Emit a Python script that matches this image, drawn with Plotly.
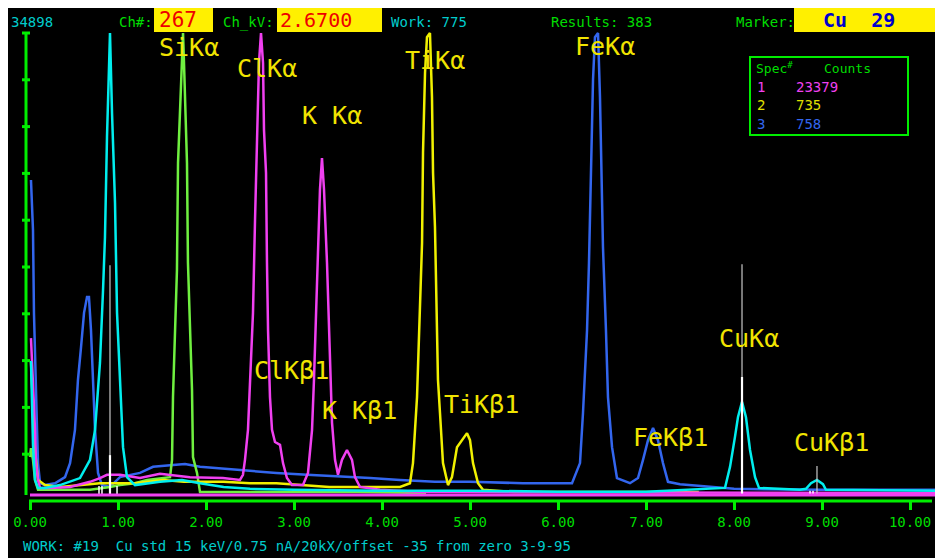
import plotly.graph_objects as go

# ---------------- data (energy in keV, counts in % of full scale 34898) ----------------
full_scale_counts = 34898

blue_keV = [0.011, 0.023, 0.034, 0.045, 0.057, 0.068, 0.080, 0.091, 0.114, 0.170, 0.284, 0.398,
            0.455, 0.511, 0.545, 0.580, 0.614, 0.648, 0.670, 0.693, 0.716, 0.739, 0.773, 0.818,
            0.909, 1.023, 1.250, 1.398, 1.625, 1.761, 1.932, 2.386, 2.800, 3.148, 3.500, 3.864,
            4.205, 4.600, 5.000, 5.602, 6.159, 6.250, 6.284, 6.330, 6.352, 6.375, 6.398, 6.420,
            6.455, 6.477, 6.500, 6.511, 6.545, 6.568, 6.614, 6.670, 6.818, 6.909, 6.966, 7.023,
            7.080, 7.136, 7.193, 7.250, 7.386, 8.000, 9.000, 10.341]
blue_pct = [68.6, 61.5, 57.9, 40.2, 29.5, 22.2, 15.2, 8.1, 3.8, 3.4, 3.8, 5.1,
            8.1, 15.2, 25.9, 32.9, 40.2, 43.6, 43.6, 36.5, 25.9, 15.2, 6.0, 3.4,
            3.0, 5.1, 6.0, 7.3, 7.7, 7.9, 7.3, 6.6, 6.0, 5.6, 5.3, 4.9,
            4.5, 4.1, 4.1, 3.8, 3.8, 8.1, 18.8, 36.5, 50.9, 72.2, 90.0, 99.1,
            100.0, 86.3, 68.6, 54.3, 36.5, 22.2, 11.5, 4.9, 3.8, 4.9, 8.8, 13.0,
            15.6, 13.0, 8.1, 4.1, 3.6, 2.6, 2.4, 2.4]

cyan_keV = [0.011, 0.034, 0.057, 0.091, 0.170, 0.341, 0.568, 0.682, 0.739, 0.795, 0.830, 0.852,
            0.875, 0.898, 0.909, 0.932, 0.966, 0.989, 1.023, 1.057, 1.102, 1.193, 1.477, 1.727,
            1.932, 2.200, 2.500, 3.000, 4.000, 5.000, 6.000, 7.000, 7.898, 7.955, 8.011, 8.045,
            8.091, 8.136, 8.182, 8.239, 8.284, 8.750, 8.818, 8.875, 8.943, 9.011, 9.045, 10.341]
cyan_pct = [29.9, 12.0, 4.5, 2.8, 2.8, 3.4, 4.9, 8.8, 15.2, 29.5, 45.1, 56.4,
            77.8, 94.9, 100.0, 82.9, 63.7, 40.2, 25.9, 11.5, 5.1, 3.4, 4.1, 4.5,
            3.8, 3.0, 2.6, 2.4, 2.2, 2.2, 2.0, 2.0, 2.8, 7.3, 13.7, 17.9,
            21.2, 17.9, 10.9, 5.1, 2.8, 2.4, 2.6, 3.8, 4.5, 3.6, 2.4, 2.2]

magenta_keV = [0.011, 0.023, 0.045, 0.057, 0.068, 0.091, 0.114, 0.227, 0.455, 0.682, 0.795, 0.875,
               1.023, 1.250, 1.477, 1.591, 1.818, 2.193, 2.386, 2.420, 2.443, 2.477, 2.500, 2.534,
               2.557, 2.580, 2.602, 2.625, 2.648, 2.659, 2.682, 2.693, 2.705, 2.727, 2.750, 2.784,
               2.841, 2.875, 2.920, 2.977, 3.102, 3.159, 3.205, 3.227, 3.250, 3.273, 3.295, 3.318,
               3.341, 3.375, 3.398, 3.420, 3.432, 3.466, 3.500, 3.545, 3.602, 3.659, 3.693, 3.750,
               3.977, 4.400, 5.000, 10.341]
magenta_pct = [34.8, 29.5, 22.2, 15.2, 8.1, 4.5, 2.8, 2.8, 3.0, 4.1, 4.9, 5.6,
               5.6, 4.9, 5.8, 5.6, 5.1, 4.9, 4.5, 5.6, 8.8, 15.2, 25.9, 40.2,
               60.0, 80.8, 93.6, 100.0, 93.6, 79.3, 70.1, 50.9, 36.5, 22.2, 15.2, 12.6,
               12.0, 8.1, 4.9, 3.4, 3.4, 6.0, 15.2, 25.9, 40.2, 54.3, 66.5, 73.3,
               66.5, 50.9, 36.5, 25.9, 16.7, 8.8, 5.6, 8.8, 10.9, 8.8, 5.1, 3.0,
               2.4, 2.0, 1.9, 1.7]

green_keV = [0.000, 0.011, 0.034, 0.057, 0.091, 0.682, 0.909, 1.023, 1.193, 1.330, 1.591, 1.614,
             1.625, 1.648, 1.670, 1.682, 1.705, 1.727, 1.739, 1.750, 1.773, 1.784, 1.795, 1.818,
             1.841, 1.852, 1.898, 1.932, 3.716, 4.500]
green_pct = [9.4, 11.3, 8.8, 4.5, 2.4, 2.4, 3.0, 3.4, 3.8, 4.5, 5.1, 8.8,
             22.2, 38.7, 49.4, 72.2, 84.2, 93.6, 100.0, 93.6, 81.4, 72.2, 50.9, 39.3,
             23.7, 9.4, 6.0, 1.9, 1.9, 1.7]

yellow_keV = [0.011, 0.034, 0.057, 0.091, 0.170, 0.341, 0.795, 1.193, 1.330, 1.511, 1.750, 2.200,
              2.500, 2.800, 3.400, 4.205, 4.318, 4.352, 4.398, 4.432, 4.455, 4.466, 4.489, 4.511,
              4.545, 4.568, 4.580, 4.602, 4.625, 4.636, 4.659, 4.693, 4.750, 4.795, 4.852, 4.909,
              4.966, 5.000, 5.034, 5.091, 5.148, 5.500, 7.600]
yellow_pct = [29.7, 21.6, 10.9, 4.5, 3.4, 3.0, 3.8, 3.8, 4.1, 4.5, 4.1, 4.1,
              3.8, 3.8, 3.0, 3.0, 3.8, 8.1, 22.2, 43.6, 55.1, 74.4, 91.5, 99.1,
              100.0, 86.3, 70.1, 58.5, 40.2, 25.9, 18.8, 8.1, 3.4, 5.1, 11.5, 13.0,
              14.5, 13.0, 8.1, 3.8, 2.4, 1.9, 1.9]

baseline_keV = [0.0, 10.341]
baseline_pct = [1.3, 1.3]

# Cu KLM marker lines (Marker: Cu 29)
cu_marker_keV = [0.909, 8.091, 8.943]
cu_marker_pct = [50.4, 50.6, 7.5]
cu_marker_bright_pct = [9.8, 26.5, 0.0]
cu_minor_keV = [0.784, 0.818, 0.989, 8.864, 8.898]
cu_minor_pct = [3.2, 3.2, 3.2, 2.2, 2.2]
marker_base_pct = 1.3

peak_labels = ["SiKα", "ClKα", "K Kα", "TiKα", "FeKα", "CuKα",
               "ClKβ1", "K Kβ1", "TiKβ1", "FeKβ1", "CuKβ1"]
peak_label_keV = [1.443, 2.330, 3.068, 4.239, 6.170, 7.807,
                  2.523, 3.295, 4.682, 6.830, 8.659]
peak_label_pct = [96.8, 92.5, 82.3, 94.2, 97.2, 34.8,
                  27.8, 19.4, 20.7, 13.5, 12.6]

x_ticks = [0, 1, 2, 3, 4, 5, 6, 7, 8, 9, 10]
x_tick_text = ["0.00", "1.00", "2.00", "3.00", "4.00", "5.00",
               "6.00", "7.00", "8.00", "9.00", "10.00"]
y_ticks = [10, 20, 30, 40, 50, 60, 70, 80, 90, 100]

legend_spec = ["1", "2", "3"]
legend_counts = ["23379", "735", "758"]

# ---------------- styling ----------------
# the page places the figure 8 px from the window's top-left corner
OFF = 8
WIN_W, WIN_H = 943, 558
W, H = WIN_W - OFF, WIN_H - OFF
MONO = "DejaVu Sans Mono"
AXIS_GREEN = "#00ee00"
TXT_GREEN = "#00dd00"
TXT_CYAN = "#00cccc"
C_BLUE = "#3366ee"
C_CYAN = "#00eeee"
C_MAG = "#f040f0"
C_GREEN = "#70f040"
C_YEL = "#f0f000"
LBL_YEL = "#f0e400"
BOX_YEL = "#fff000"

# window pixel -> keV / percent  (0 keV at x=30, 88 px per keV; 0 % at y=501, 4.68 px per %)
X_RANGE = [(OFF - 30) / 88, (WIN_W - 30) / 88]
Y_RANGE = [(501 - WIN_H) / 4.68, (501 - OFF) / 4.68]


def pxx(x):
    return (x - OFF) / W


def pxy(y):
    return (WIN_H - y) / H


fig = go.Figure()


def spec(xs, ys, color, name, width=2.5):
    fig.add_trace(go.Scatter(x=xs, y=ys, mode="lines", name=name,
                             line=dict(color=color, width=width), hoverinfo="skip"))


spec(blue_keV, blue_pct, C_BLUE, "Spec 3")
spec(green_keV, green_pct, C_GREEN, "Si")
spec(yellow_keV, yellow_pct, C_YEL, "Spec 2")
spec(magenta_keV, magenta_pct, C_MAG, "Spec 1")
spec(cyan_keV, cyan_pct, C_CYAN, "Cu std")


def stems(xs, hs):
    X, Y = [], []
    for x, h in zip(xs, hs):
        if h <= 0:
            continue
        X += [x, x, None]
        Y += [marker_base_pct, h, None]
    return X, Y


mx, my = stems(cu_marker_keV, cu_marker_pct)
fig.add_trace(go.Scatter(x=mx, y=my, mode="lines", line=dict(color="#c8c8c8", width=1.2),
                         hoverinfo="skip", name="Cu markers"))
bx, by = stems(cu_marker_keV, cu_marker_bright_pct)
fig.add_trace(go.Scatter(x=bx, y=by, mode="lines", line=dict(color="#ffffff", width=2.2),
                         hoverinfo="skip", name="Cu markers"))
nx, ny = stems(cu_minor_keV, cu_minor_pct)
fig.add_trace(go.Scatter(x=nx, y=ny, mode="lines", line=dict(color="#ffffff", width=1.5),
                         hoverinfo="skip", name="Cu minor"))
spec(baseline_keV, baseline_pct, C_MAG, "baseline", width=3)

shapes = []
# x axis line
shapes.append(dict(type="line", xref="x", yref="y", x0=-0.011, x1=10.25, y0=0, y1=0,
                   line=dict(color=AXIS_GREEN, width=3)))
# y axis line and ticks
shapes.append(dict(type="line", xref="x", yref="y", x0=-0.0455, x1=-0.0455, y0=1.3, y1=100,
                   line=dict(color=AXIS_GREEN, width=3)))
for v in y_ticks:
    shapes.append(dict(type="line", xref="x", yref="y", x0=-0.091, x1=0.0, y0=v, y1=v,
                       line=dict(color=AXIS_GREEN, width=3)))
# yellow boxes in header
for x0, x1 in [(154, 213), (277, 382), (794, 943)]:
    shapes.append(dict(type="rect", xref="paper", yref="paper", x0=pxx(x0), x1=pxx(x1),
                       y0=pxy(32), y1=pxy(7), fillcolor=BOX_YEL, line=dict(width=0)))
# legend box
shapes.append(dict(type="rect", xref="paper", yref="paper", x0=pxx(750), x1=pxx(908),
                   y0=pxy(135), y1=pxy(57), line=dict(color=AXIS_GREEN, width=2)))

ann = []


def txt(text, x, y, color, size=14, bold=False, family=MONO):
    ann.append(dict(text=("<b>%s</b>" % text) if bold else text, x=pxx(x), y=pxy(y),
                    xref="paper", yref="paper", xanchor="left", yanchor="middle",
                    showarrow=False, font=dict(family=family, size=size, color=color)))


txt(str(full_scale_counts), 9, 22, TXT_CYAN)
txt("Ch#:", 117, 22, TXT_GREEN)
txt("267", 157, 20, "#ee0000", size=21)
txt("Ch_kV:", 221, 22, TXT_GREEN)
txt("2.6700", 278, 20, "#ee0000", size=20)
txt("Work: 775", 389, 22, TXT_CYAN)
txt("Results: 383", 549, 22, TXT_GREEN)
txt("Marker:", 734, 22, TXT_GREEN)
txt("Cu  29", 821, 20, "#0000cc", size=20, bold=True)

txt("Spec<sup>#</sup>", 754, 68, TXT_GREEN, size=13)
txt("Counts", 822, 68, TXT_GREEN, size=13)
row_colors = [C_MAG, "#e0e000", C_BLUE]
for i, (s, c) in enumerate(zip(legend_spec, legend_counts)):
    yy = 87 + i * 18.5
    txt(s, 755, yy, row_colors[i], size=14)
    txt(c, 794, yy, row_colors[i], size=14)

txt("WORK: #19  Cu std 15 keV/0.75 nA/20kX/offset -35 from zero 3-9-95", 21, 546, TXT_CYAN)

for t, xk, yv in zip(peak_labels, peak_label_keV, peak_label_pct):
    ann.append(dict(text=t, x=xk, y=yv, xref="x", yref="y", xanchor="left", yanchor="middle",
                    showarrow=False, font=dict(family=MONO, size=25, color=LBL_YEL)))

fig.update_layout(
    width=W, height=H,
    margin=dict(l=0, r=0, t=0, b=0, pad=0),
    paper_bgcolor="black", plot_bgcolor="black",
    showlegend=False,
    shapes=shapes, annotations=ann,
    xaxis=dict(range=X_RANGE, anchor="free", position=(WIN_H - 501) / H,
               showgrid=False, zeroline=False, showline=False,
               ticks="outside", ticklen=8, tickwidth=3, tickcolor=AXIS_GREEN,
               tickvals=x_ticks, ticktext=x_tick_text,
               tickfont=dict(family=MONO, size=14, color=TXT_GREEN), automargin=False),
    yaxis=dict(range=Y_RANGE, visible=False, showgrid=False, zeroline=False),
)

fig.write_html("out.html")
